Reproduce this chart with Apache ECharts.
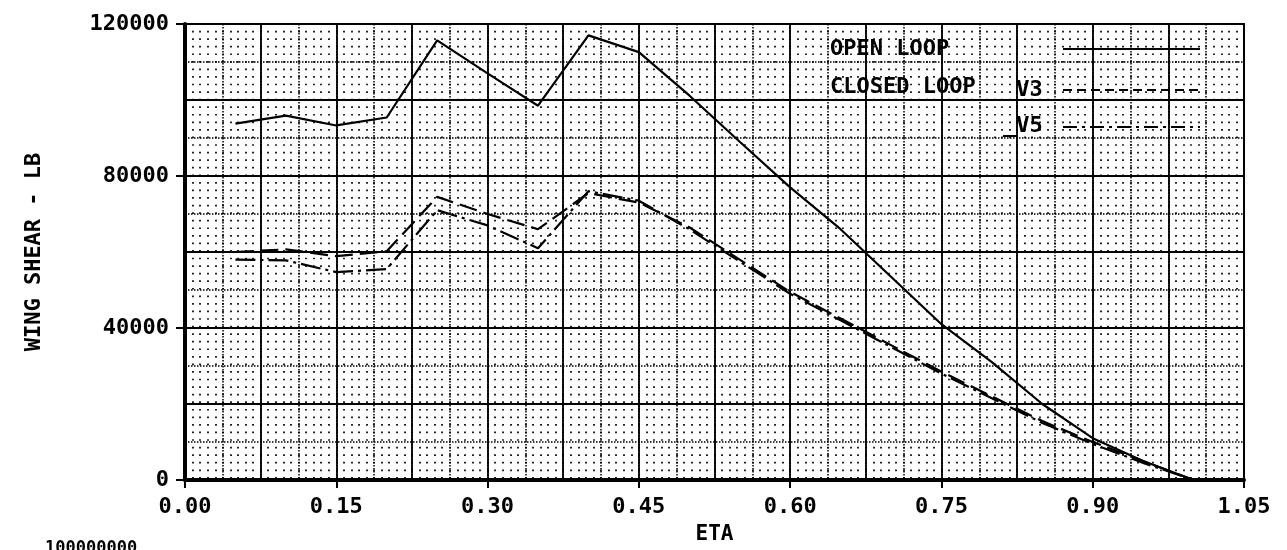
<!DOCTYPE html>
<html>
<head>
<meta charset="utf-8">
<script src="https://cdn.jsdelivr.net/npm/echarts@6/dist/echarts.min.js"></script>
<style>
  html, body { margin: 0; padding: 0; background: #fff; }
  #chart { width: 1287px; height: 550px; }
</style>
</head>
<body>
<div id="chart"></div>
<script>
// values (ETA stations every 0.05)
const eta = [0.05, 0.10, 0.15, 0.20, 0.25, 0.30, 0.35, 0.40, 0.45, 0.50,
             0.55, 0.60, 0.65, 0.70, 0.75, 0.80, 0.85, 0.90, 0.95, 1.00];
const openLoop = [93800, 95900, 93300, 95400, 115700, 107000, 98500, 117000, 112600, 101200,
                  89000, 77000, 66000, 53500, 41000, 31000, 20000, 11000, 5000, 0];
const closedV3 = [60000, 60700, 58900, 60200, 74500, 70000, 66000, 75500, 73000, 66500,
                  58000, 49500, 42500, 35500, 28500, 22000, 15500, 10000, 5000, 0];
const closedV5 = [58000, 57800, 54700, 55500, 71000, 67000, 61000, 76000, 73500, 66000,
                  57500, 49000, 42000, 35000, 28000, 21500, 15000, 9500, 4500, 0];

const xTicks = { min: 0, max: 1.05, step: 0.15 };
const yTicks = { min: 0, max: 120000, step: 40000 };
const legendNames = ["OPEN LOOP", "CLOSED LOOP", "_V3", "_V5"];

const FONT = "DejaVu Sans Mono";
const chart = echarts.init(document.getElementById("chart"));

const pairs = (ys) => eta.map((x, i) => [x, ys[i]]);

// hidden axes used only for the gridwork
const gridX = (interval, style) => ({
  type: "value", gridIndex: 0, min: xTicks.min, max: xTicks.max, interval,
  axisLine: { show: false }, axisTick: { show: false }, axisLabel: { show: false },
  splitLine: { show: true, lineStyle: style },
});
const gridY = (interval, style) => ({
  type: "value", gridIndex: 0, min: yTicks.min, max: yTicks.max, interval,
  axisLine: { show: false }, axisTick: { show: false }, axisLabel: { show: false },
  splitLine: { show: true, lineStyle: style },
});

const txt = (size) => ({ fontFamily: FONT, fontWeight: "bold", fontSize: size, color: "#000" });

const options = {
  animation: false,
  backgroundColor: "#fff",
  textStyle: { fontFamily: FONT, fontWeight: "bold", color: "#000" },
  grid: {
    left: 185, top: 24, width: 1059, height: 463,
    show: true, borderColor: "#000", borderWidth: 2, backgroundColor: "#fff",
  },
  xAxis: [
    {
      type: "value",
      min: xTicks.min, max: xTicks.max, interval: xTicks.step,
      name: "ETA", nameLocation: "middle", nameGap: 44,
      nameTextStyle: txt(21),
      axisLine: { show: true, lineStyle: { color: "#000", width: 4 } },
      axisTick: { show: true, inside: false, length: 8, lineStyle: { color: "#000", width: 2 } },
      axisLabel: Object.assign({ margin: 16, formatter: (v) => v.toFixed(2) }, txt(22)),
      splitLine: { show: false },
      z: 5,
    },
    gridX(0.0075, { color: "#000", width: 1.7, type: [1.7, 5.864], dashOffset: 0.85 }),
    gridX(0.0375, { color: "#000", width: 1.5, type: [1.5, 1.5] }),
    gridX(0.075, { color: "#000", width: 1.8, type: "solid" }),
  ],
  yAxis: [
    {
      type: "value",
      min: yTicks.min, max: yTicks.max, interval: yTicks.step,
      name: "WING SHEAR - LB", nameLocation: "middle", nameGap: 140, nameRotate: 90,
      nameTextStyle: txt(22),
      axisLine: { show: true, lineStyle: { color: "#000", width: 4 } },
      axisTick: { show: true, inside: false, length: 9, lineStyle: { color: "#000", width: 2 } },
      axisLabel: Object.assign({ margin: 16, formatter: (v) => String(v) }, txt(22)),
      splitLine: { show: false },
      z: 5,
    },
    gridY(10000, { color: "#000", width: 1.5, type: [1.5, 1.5] }),
    gridY(20000, { color: "#000", width: 1.8, type: "solid" }),
  ],
  series: [
    {
      name: "OPEN LOOP", type: "line", data: pairs(openLoop),
      showSymbol: false, symbol: "none", z: 10,
      lineStyle: { color: "#000", width: 2.2, type: "solid" },
    },
    {
      name: "CLOSED LOOP V3", type: "line", data: pairs(closedV3),
      showSymbol: false, symbol: "none", z: 10,
      lineStyle: { color: "#000", width: 2.2, type: [18, 7] },
    },
    {
      name: "CLOSED LOOP V5", type: "line", data: pairs(closedV5),
      showSymbol: false, symbol: "none", z: 10,
      lineStyle: { color: "#000", width: 2.2, type: [20, 5, 3, 5] },
    },
  ],
  graphic: [
    // legend block, drawn over the grid as on the original plot
    { type: "text", left: 830, top: 38, z: 21,
      style: { text: legendNames[0], font: "bold 22px '" + FONT + "'", fill: "#000" } },
    { type: "text", left: 830, top: 76, z: 21,
      style: { text: legendNames[1], font: "bold 22px '" + FONT + "'", fill: "#000" } },
    { type: "text", left: 1003, top: 79, z: 21,
      style: { text: legendNames[2], font: "bold 22px '" + FONT + "'", fill: "#000" } },
    { type: "text", left: 1003, top: 115, z: 21,
      style: { text: legendNames[3], font: "bold 22px '" + FONT + "'", fill: "#000" } },
    { type: "line", z: 21, shape: { x1: 1063, y1: 49, x2: 1200, y2: 49 },
      style: { stroke: "#000", lineWidth: 2 } },
    { type: "line", z: 21, shape: { x1: 1063, y1: 90, x2: 1200, y2: 90 },
      style: { stroke: "#000", lineWidth: 2, lineDash: [9, 5] } },
    { type: "line", z: 21, shape: { x1: 1063, y1: 127, x2: 1200, y2: 127 },
      style: { stroke: "#000", lineWidth: 2, lineDash: [14, 5, 3, 5] } },
    // start of the next panel's axis label, clipped by the page edge
    { type: "text", left: 45, top: 540,
      style: { text: "100000000", font: "bold 17px '" + FONT + "'", fill: "#000" } },
  ],
};

chart.setOption(options);
window.addEventListener("resize", () => chart.resize());
</script>
</body>
</html>
